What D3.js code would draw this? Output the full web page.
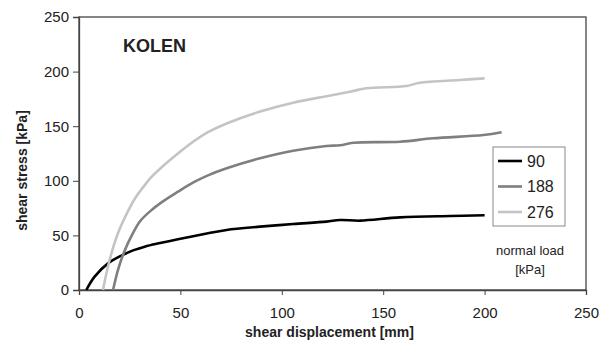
<!DOCTYPE html>
<html>
<head>
<meta charset="utf-8">
<script src="https://cdn.jsdelivr.net/npm/d3@7"></script>
<style>
  body { margin: 0; background: #fff; }
  svg text { font-family: Arial, "Liberation Sans", sans-serif; fill: #222; }
</style>
</head>
<body>
<svg id="chart" width="609" height="353"></svg>
<script>
// shear displacement [mm] / shear stress [kPa]
const load90 = [[3.6, 0], [7.7, 12.2], [14.3, 24.4], [22.5, 33], [27, 36.5], [32.4, 39.7], [40, 43], [48.8, 46.5],
  [63.6, 51.9], [72.8, 55], [89.3, 58], [105.6, 60.4], [122, 62.6], [128.7, 64.1], [138.6, 63.5], [158.3, 66.5],
  [183, 67.8], [200, 68.4]];
const load188 = [[16.8, 0], [19.2, 18.3], [22.5, 36], [26.6, 52], [30.1, 63], [35, 72], [40.5, 80], [48.8, 90],
  [56.4, 98.5], [63.6, 105], [72.8, 111.5], [89.3, 120.6], [105.6, 127.5], [122, 131.9], [128.7, 132.5],
  [135.3, 134.9], [158.3, 135.8], [174.6, 138.9], [199.4, 141.9], [208.4, 144.4]];
const load276 = [[11.8, 0], [15.1, 27.5], [19.2, 51.9], [24.1, 72], [28, 85], [32.4, 96], [36, 104], [40.5, 112],
  [48.8, 125], [56.4, 136], [63.6, 144.5], [72.8, 152.5], [89.3, 163.4], [105.6, 171.5], [122, 177.5],
  [133.6, 181.6], [141.8, 184.7], [161.5, 186.8], [168, 189.8], [187.7, 192.3], [200, 193.8]];

const seriesNames = ['90', '188', '276'];
const xTicks = [0, 50, 100, 150, 200, 250];
const yTicks = [0, 50, 100, 150, 200, 250];

const series = [
  { name: seriesNames[0], values: load90, color: '#000000' },
  { name: seriesNames[1], values: load188, color: '#7f7f7f' },
  { name: seriesNames[2], values: load276, color: '#c4c4c4' },
];

const margin = { top: 17, right: 23, bottom: 63, left: 79 };
const width = 609 - margin.left - margin.right;
const height = 353 - margin.top - margin.bottom;

const svg = d3.select('#chart');
const chart = svg.append('g').attr('transform', `translate(${margin.left},${margin.top})`);

const xScale = d3.scaleLinear().domain([0, 250]).range([0, width]);
const yScale = d3.scaleLinear().domain([0, 250]).range([height, 0]);

// frame
chart.append('rect')
  .attr('width', width).attr('height', height)
  .attr('fill', 'none').attr('stroke', '#444').attr('stroke-width', 1.3);

const xAxisG = chart.append('g')
  .attr('transform', `translate(0,${height})`)
  .call(d3.axisBottom(xScale).tickValues(xTicks).tickSize(5).tickPadding(12));
const yAxisG = chart.append('g')
  .call(d3.axisLeft(yScale).tickValues(yTicks).tickSize(6).tickPadding(4));

[xAxisG, yAxisG].forEach((g) => {
  g.select('.domain').attr('stroke', '#444').attr('stroke-width', 1.3);
  g.selectAll('.tick line').attr('stroke', '#444');
  g.selectAll('.tick text').style('font-size', '15px').attr('fill', '#222');
});

const line = d3.line()
  .x((d) => xScale(d[0]))
  .y((d) => yScale(d[1]))
  .curve(d3.curveCatmullRom.alpha(0.5));

chart.selectAll('.series')
  .data(series)
  .join('path')
  .attr('class', 'series')
  .attr('d', (d) => line(d.values))
  .attr('fill', 'none')
  .attr('stroke', (d) => d.color)
  .attr('stroke-width', 2.6);

// title inside plot
chart.append('text')
  .attr('x', 44).attr('y', 35)
  .style('font-size', '18px').style('font-weight', 'bold')
  .text('KOLEN');

// legend
const legend = chart.append('g').attr('transform', 'translate(414,130)');
legend.append('rect')
  .attr('width', 72).attr('height', 79)
  .attr('fill', '#fff').attr('stroke', '#888').attr('stroke-width', 1);
const items = legend.selectAll('.item')
  .data(series)
  .join('g')
  .attr('class', 'item')
  .attr('transform', (d, i) => `translate(0,${14 + i * 25.5})`);
items.append('line')
  .attr('x1', 5).attr('x2', 29)
  .attr('stroke', (d) => d.color).attr('stroke-width', 2.6);
items.append('text')
  .attr('x', 34).attr('dy', '0.36em')
  .style('font-size', '16px')
  .text((d) => d.name);

chart.append('text')
  .attr('x', 451).attr('y', 238)
  .attr('text-anchor', 'middle')
  .style('font-size', '13px')
  .text('normal load');
chart.append('text')
  .attr('x', 451).attr('y', 257)
  .attr('text-anchor', 'middle')
  .style('font-size', '13px')
  .text('[kPa]');

// axis titles
svg.append('text')
  .attr('x', margin.left + width / 2 - 3).attr('y', 337)
  .attr('text-anchor', 'middle')
  .style('font-size', '14px').style('font-weight', 'bold')
  .text('shear displacement [mm]');

svg.append('text')
  .attr('transform', `translate(27,${margin.top + height / 2 + 17}) rotate(-90)`)
  .attr('text-anchor', 'middle')
  .style('font-size', '14px').style('font-weight', 'bold')
  .text('shear stress [kPa]');
</script>
</body>
</html>
